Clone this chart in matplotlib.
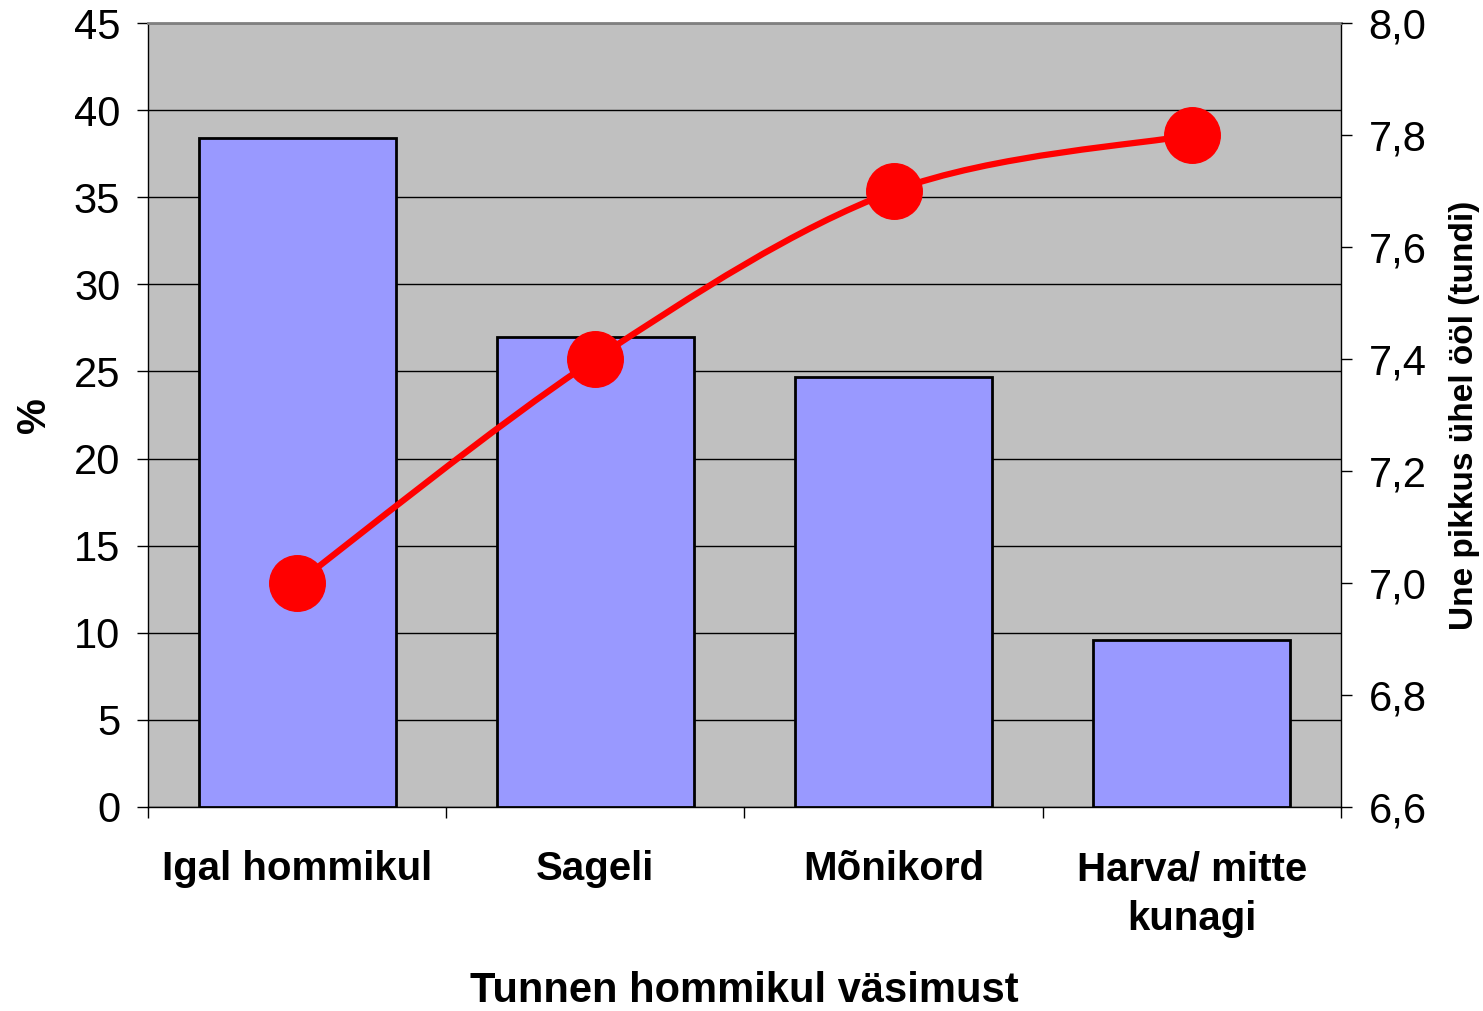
import matplotlib
matplotlib.use("Agg")
import matplotlib.pyplot as plt
from matplotlib.path import Path
from matplotlib.patches import PathPatch

categories = ["Igal hommikul", "Sageli", "Mõnikord", "Harva/ mitte\nkunagi"]
percent = [38.4, 27.0, 24.7, 9.6]
sleep_hours = [7.0, 7.4, 7.7, 7.8]
left_ticks = [0, 5, 10, 15, 20, 25, 30, 35, 40, 45]
right_ticks = [6.6, 6.8, 7.0, 7.2, 7.4, 7.6, 7.8, 8.0]

plt.rcParams["font.family"] = ["Liberation Sans", "DejaVu Sans"]

fig = plt.figure(figsize=(14.83, 10.11), dpi=100)
ax = fig.add_axes([0.0998, 0.2018, 0.8044, 0.7754])
ax.set_facecolor("#C0C0C0")

x = list(range(len(categories)))
ax.bar(x, percent, width=0.66, color="#9999FF", edgecolor="black", linewidth=2, zorder=3)
ax.set_xlim(-0.5, len(categories) - 0.5)
ax.set_ylim(0, 45)
ax.set_yticks(left_ticks)
ax.set_yticklabels([str(t) for t in left_ticks], fontsize=30)
ax.yaxis.grid(True, color="black", linewidth=1, zorder=0)
ax.set_axisbelow(True)

ax.set_xticks(x)
ax.set_xticklabels(categories, fontsize=29, fontweight="bold", linespacing=1.4)
ax.set_xticks([i - 0.5 for i in range(len(categories) + 1)], minor=True)
ax.tick_params(axis="x", which="major", length=0, pad=31)
ax.tick_params(axis="x", which="minor", length=8, width=1, direction="out")
ax.tick_params(axis="y", length=8, width=1, direction="out", pad=12)

ax.spines["top"].set_color("#808080")
ax.spines["top"].set_linewidth(2)
for s in ["left", "bottom", "right"]:
    ax.spines[s].set_color("black")
    ax.spines[s].set_linewidth(1)

ax.set_ylabel("%", fontsize=29, fontweight="bold", labelpad=15)
ax.set_xlabel("Tunnen hommikul väsimust", fontsize=30, fontweight="bold", labelpad=24)

ax2 = ax.twinx()
ax2.set_ylim(6.6, 8.0)
ax2.set_yticks(right_ticks)
ax2.set_yticklabels([f"{t:.1f}".replace(".", ",") for t in right_ticks], fontsize=30)
ax2.tick_params(axis="y", length=8, width=1, direction="out", pad=12)
ax2.set_ylabel("Une pikkus ühel ööl (tundi)", fontsize=24, fontweight="bold", labelpad=16)
for s in ax2.spines.values():
    s.set_visible(False)

# smoothed line (Excel style, Catmull-Rom -> Bezier)
pts = list(zip(x, sleep_hours))
verts = [pts[0]]
codes = [Path.MOVETO]
for i in range(len(pts) - 1):
    p0 = pts[i - 1] if i > 0 else pts[i]
    p1 = pts[i]
    p2 = pts[i + 1]
    p3 = pts[i + 2] if i + 2 < len(pts) else pts[i + 1]
    c1 = (p1[0] + (p2[0] - p0[0]) / 6, p1[1] + (p2[1] - p0[1]) / 6)
    c2 = (p2[0] - (p3[0] - p1[0]) / 6, p2[1] - (p3[1] - p1[1]) / 6)
    verts += [c1, c2, p2]
    codes += [Path.CURVE4] * 3
ax2.add_patch(PathPatch(Path(verts, codes), facecolor="none", edgecolor="red",
                        linewidth=4.5, zorder=4))
ax2.plot(x, sleep_hours, linestyle="none", marker="o", markersize=40,
         color="red", zorder=5)

fig.savefig("out.png", dpi=100)
